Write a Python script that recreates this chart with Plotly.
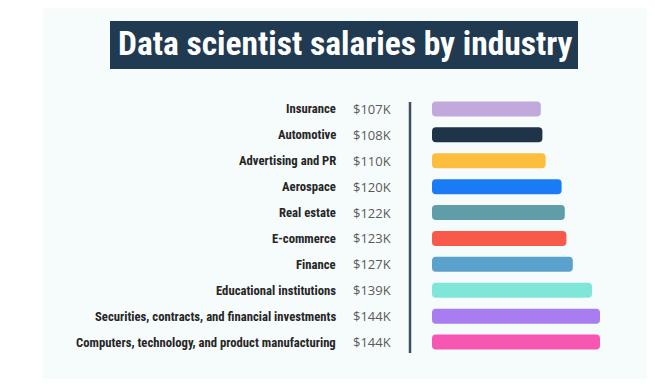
import plotly.graph_objects as go
import numpy as np

industries = ["Insurance", "Automotive", "Advertising and PR", "Aerospace", "Real estate",
              "E-commerce", "Finance", "Educational institutions",
              "Securities, contracts, and financial investments",
              "Computers, technology, and product manufacturing"]
salaries_k = [107, 108, 110, 120, 122, 123, 127, 139, 144, 144]
value_labels = ["$107K", "$108K", "$110K", "$120K", "$122K", "$123K", "$127K", "$139K", "$144K", "$144K"]
colors = ["#c2a9dd", "#1f3449", "#fdbd3d", "#1b7bf4", "#5f9ea9",
          "#f8594a", "#5aa2cc", "#80e6da", "#a97cf1", "#f757b2"]

OFF = 8  # page body margin
W, H = 655 - 2 * OFF, 387 - 2 * OFF
L, R, T, B = 410 - OFF, 45 - OFF, 96 - OFF, 32 - OFF
PW = W - L - R
PH = H - T - B
BASE = 39
XMIN, XMAX = 25.25, 150.25
COND = "Roboto Condensed, Liberation Sans Narrow, sans-serif"

def px(x):
    return (x - OFF - L) / PW

def py(y):
    return 1 - (y - OFF - T) / PH

fig = go.Figure()
fig.add_trace(go.Bar(
    y=industries,
    x=np.array(salaries_k) - BASE,
    base=BASE,
    orientation="h",
    marker=dict(color=colors, cornerradius=4, line=dict(width=0)),
    hoverinfo="skip",
))

annotations = []
for name, lab in zip(industries, value_labels):
    annotations.append(dict(x=px(338), y=name, xref="paper", yref="y", text=name,
                            xanchor="right", yanchor="middle", showarrow=False,
                            font=dict(family=COND, size=12.7, color="#262626", weight="bold")))
    annotations.append(dict(x=px(351), y=name, xref="paper", yref="y", text=lab,
                            xanchor="left", yanchor="middle", showarrow=False,
                            font=dict(family="Open Sans, sans-serif", size=13, color="#5a5a5a")))

annotations.append(dict(x=px(345), y=py(44), xref="paper", yref="paper",
                        text="Data scientist salaries by industry",
                        xanchor="center", yanchor="middle", showarrow=False,
                        font=dict(family=COND, size=33.5, color="#ffffff", weight="bold")))

shapes = [
    dict(type="rect", xref="paper", yref="paper", x0=px(43), x1=px(660), y0=py(-10), y1=py(400),
         fillcolor="#f6fbfc", line=dict(width=0), layer="below"),
    dict(type="rect", xref="paper", yref="paper", x0=px(110), x1=px(578), y0=py(21), y1=py(69),
         fillcolor="#1f3a51", line=dict(width=0), layer="below"),
    dict(type="line", xref="paper", yref="paper", x0=px(410), x1=px(410), y0=py(102), y1=py(353),
         line=dict(color="#3f5061", width=2.5)),
]

fig.update_layout(
    width=W, height=H,
    margin=dict(l=L, r=R, t=T, b=B),
    paper_bgcolor="#ffffff", plot_bgcolor="rgba(0,0,0,0)",
    bargap=0.42,
    showlegend=False,
    xaxis=dict(range=[XMIN, XMAX], visible=False, fixedrange=True),
    yaxis=dict(categoryorder="array", categoryarray=industries, autorange="reversed",
               showticklabels=False, showgrid=False, zeroline=False, showline=False, fixedrange=True),
    annotations=annotations,
    shapes=shapes,
)

fig.write_html("out.html")
